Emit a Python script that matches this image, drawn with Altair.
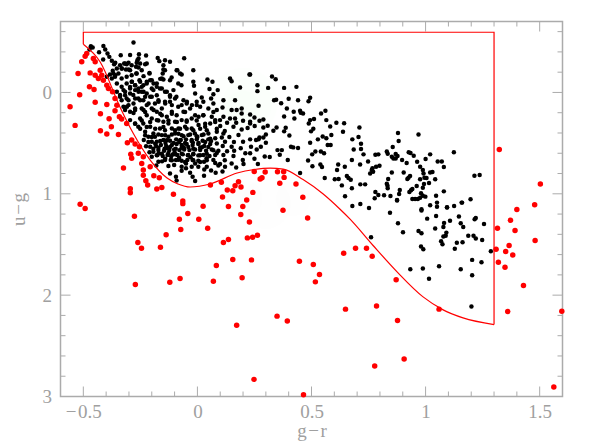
import altair as alt
import pandas as pd

red_left = [(-0.485,-0.384),(-0.492,-0.358),(-0.507,-0.302),(-0.456,-0.334),(-0.448,-0.302),(-0.523,-0.187),(-0.47,-0.193),(-0.448,-0.17),(-0.434,-0.138),(-0.419,-0.17),(-0.426,-0.22),(-0.412,-0.121),(-0.473,-0.056),(-0.453,-0.03),(-0.516,0.023),(-0.558,0.142),(-0.448,0.096),(-0.397,-0.071),(-0.39,-0.039),(-0.372,-0.006),(-0.397,0.119),(-0.361,0.06),(-0.353,0.126),(-0.361,0.181),(-0.425,0.211),(-0.387,0.26),(-0.342,0.24),(-0.332,0.263),(-0.31,0.306),(-0.536,0.325),(-0.377,0.338),(-0.425,0.378),(-0.397,0.411),(-0.346,0.415),(-0.307,0.496),(-0.288,0.47),(-0.273,0.509),(-0.254,0.536),(-0.292,0.61),(-0.288,0.65),(-0.324,0.746),(-0.259,0.601),(-0.237,0.634),(-0.244,0.7),(-0.237,0.766),(-0.207,0.733),(-0.237,0.816),(-0.226,0.872),(-0.218,0.914),(-0.191,0.822),(-0.167,0.841),(-0.178,0.953),(-0.156,0.937),(-0.294,0.95),(-0.294,0.989),(-0.105,1.005),(0.057,0.914),(0.105,0.887),(0.131,0.963),(0.155,0.97),(0.18,0.881),(0.165,0.92),(0.191,0.933),(0.11,1.031)]
red_mid = [(-0.514,1.103),(-0.492,1.146),(-0.276,1.222),(-0.261,1.48),(-0.245,1.537),(-0.272,1.895),(-0.162,1.527),(-0.137,1.403),(-0.121,1.872),(-0.076,1.836),(-0.079,1.251),(-0.073,1.353),(-0.042,1.195),(-0.064,1.097),(-0.064,1.071),(0.006,1.251),(0.025,1.123),(0.045,1.34),(0.07,1.862),(0.083,1.708),(0.114,1.48),(0.136,1.451),(0.136,1.126),(0.155,1.649),(0.19,1.205),(0.199,1.126),(0.216,1.061),(0.228,1.278),(0.219,1.435),(0.242,1.429),(0.263,1.409),(0.237,1.652),(0.196,1.829),(0.172,2.296),(0.375,1.163),(0.483,1.238),(0.447,1.665),(0.508,1.698),(0.535,1.796),(0.517,1.869),(0.349,2.207),(0.394,2.256),(0.248,2.831),(0.465,2.982),(0.249,0.779),(0.297,0.785),(0.351,0.782),(0.378,0.782),(0.38,0.838),(0.275,0.854),(0.283,0.841),(0.361,0.897),(0.432,0.904),(0.243,0.986),(0.462,1.035)]
red_right = [(0.641,1.586),(0.693,1.537),(0.741,1.537),(0.766,1.616),(0.871,1.849),(0.649,2.138),(0.785,2.108),(0.877,2.25),(1.059,2.138),(0.906,2.63),(0.777,2.699),(1.315,1.34),(1.309,1.547),(1.319,1.675),(1.351,1.57),(1.366,1.51),(1.382,1.603),(1.348,1.724),(1.392,1.363),(1.372,1.261),(1.4,1.156),(1.478,1.107),(1.48,1.461),(1.429,1.905),(1.36,2.161),(1.597,2.158),(1.562,2.906),(1.323,0.562),(1.503,0.904)]

black_top = [(-0.28,-0.492),(-0.467,-0.456),(-0.459,-0.443),(-0.473,-0.423),(-0.412,-0.459),(-0.404,-0.423),(-0.431,-0.397),(-0.394,-0.384),(-0.386,-0.351),(-0.375,-0.312),(-0.413,-0.325),(-0.336,-0.368),(-0.295,-0.37),(-0.256,-0.377),(-0.225,-0.364),(-0.174,-0.341),(-0.167,-0.309),(-0.142,-0.318),(-0.12,-0.302),(-0.058,-0.338),(-0.018,-0.22),(0.044,-0.128),(0.066,-0.105),(0.143,-0.138),(0.15,-0.111),(0.228,-0.176),(0.187,-0.049),(0.089,-0.023),(0.053,-0.033),(0.07,0.017),(-0.018,-0.105),(-0.015,-0.065),(-0.01,0.01),(0.019,0.05),(0.06,0.06)]
black_band1 = [(-0.36,-0.292),(-0.339,-0.269),(-0.317,-0.285),(-0.302,-0.292),(-0.288,-0.269),(-0.263,-0.318),(-0.251,-0.285),(-0.269,-0.253),(-0.222,-0.285),(-0.266,-0.187),(-0.244,-0.22),(-0.21,-0.187),(-0.295,-0.22),(-0.288,-0.17),(-0.313,-0.226),(-0.332,-0.236),(-0.346,-0.187),(-0.368,-0.187),(-0.383,-0.177),(-0.361,-0.154),(-0.332,-0.138),(-0.31,-0.154),(-0.149,-0.269),(-0.142,-0.22),(-0.152,-0.187),(-0.091,-0.22),(-0.076,-0.187),(-0.156,-0.138),(-0.12,-0.121),(-0.084,-0.088),(-0.07,-0.072),(-0.397,-0.154),(-0.375,-0.138),(-0.353,-0.088),(-0.332,-0.056),(-0.31,-0.088),(-0.288,-0.105),(-0.273,-0.072),(-0.254,-0.121),(-0.237,-0.072),(-0.222,-0.105),(-0.2,-0.121),(-0.178,-0.088),(-0.164,-0.039),(-0.142,-0.006),(-0.12,0.043),(-0.098,0.059),(-0.259,-0.039),(-0.244,-0.006),(-0.222,0.01),(-0.295,-0.039),(-0.317,-0.006),(-0.339,0.026),(-0.353,-0.006),(-0.332,0.076),(-0.31,0.059),(-0.281,0.026),(-0.259,0.059),(-0.237,0.076),(-0.207,0.043),(-0.193,-0.023),(-0.061,0.076),(-0.047,0.109),(-0.084,0.142),(-0.112,0.125),(-0.142,0.092),(-0.171,0.076),(-0.186,0.109)]
black_band1b = [(-0.258,-0.334),(-0.229,-0.279),(-0.266,-0.292),(-0.258,-0.246),(-0.31,-0.279),(-0.331,-0.236),(-0.321,-0.285),(-0.301,-0.226),(-0.353,-0.236),(-0.371,-0.213),(-0.36,-0.17),(-0.365,-0.279),(-0.268,-0.187),(-0.236,-0.161),(-0.21,-0.193),(-0.149,-0.226),(-0.149,-0.128),(-0.163,-0.134),(-0.113,-0.147),(-0.088,-0.22),(-0.069,-0.177),(-0.287,-0.105),(-0.295,-0.055),(-0.273,-0.072),(-0.251,-0.105),(-0.244,-0.055),(-0.222,-0.088),(-0.207,-0.121),(-0.192,-0.088),(-0.2,-0.039),(-0.178,-0.055),(-0.236,-0.006),(-0.258,-0.006),(-0.273,-0.023),(-0.295,0.01),(-0.317,0.027),(-0.324,-0.023),(-0.339,0.043),(-0.302,0.076),(-0.273,0.059),(-0.251,0.076),(-0.229,0.043),(-0.214,0.109),(-0.2,0.043),(-0.178,0.027),(-0.156,-0.039),(-0.134,-0.006),(-0.12,0.027),(-0.105,-0.023),(-0.092,0.043),(-0.12,0.092),(-0.141,0.109),(-0.17,0.092),(-0.069,0.125),(-0.046,0.092),(-0.024,0.125),(-0.003,0.092),(0.012,0.141),(-0.236,0.174),(-0.273,0.158),(-0.309,0.141),(-0.192,0.174),(-0.156,0.158)]
black_band2 = [(-0.324,0.142),(-0.302,0.125),(-0.28,0.109),(-0.317,0.174),(-0.295,0.191),(-0.273,0.174),(-0.244,0.158),(-0.222,0.125),(-0.2,0.158),(-0.178,0.191),(-0.156,0.224),(-0.134,0.24),(-0.112,0.191),(-0.091,0.224),(-0.061,0.191),(-0.032,0.158),(-0.003,0.125),(0.026,0.092),(0.048,0.158),(0.07,0.109),(0.085,0.174),(0.063,0.24),(0.026,0.224),(0.005,0.24),(-0.025,0.256),(-0.047,0.289),(-0.069,0.273),(-0.098,0.289),(-0.127,0.306),(-0.149,0.289),(-0.178,0.273),(-0.2,0.256),(-0.222,0.224),(-0.251,0.256),(-0.273,0.306),(-0.295,0.273),(-0.259,0.339),(-0.237,0.306),(-0.207,0.339),(-0.229,0.388),(-0.193,0.404),(-0.164,0.355),(-0.142,0.372),(-0.112,0.355),(-0.083,0.355),(-0.054,0.339),(-0.025,0.355),(0.005,0.322),(0.034,0.339),(0.056,0.306),(0.078,0.273),(0.099,0.273),(0.114,0.24),(0.143,0.256),(0.165,0.256),(0.194,0.207),(0.15,0.174),(0.172,0.174),(0.11,0.148),(0.114,0.076),(0.165,0.076),(0.194,0.158),(0.158,0.339),(0.194,0.365),(0.231,0.289)]
black_band2b = [(-0.28,0.203),(-0.229,0.193),(-0.163,0.21),(-0.112,0.21),(-0.054,0.193),(-0.01,0.226),(0.026,0.226),(0.07,0.193),(-0.273,0.308),(-0.244,0.276),(-0.207,0.292),(-0.171,0.276),(-0.127,0.276),(-0.09,0.292),(-0.047,0.276),(-0.003,0.276),(0.034,0.308),(0.078,0.292),(-0.251,0.358),(-0.222,0.341),(-0.185,0.358),(-0.149,0.341),(-0.098,0.374),(-0.076,0.358),(-0.047,0.358),(-0.018,0.374),(0.012,0.358),(0.041,0.374),(0.085,0.358)]
black_band3 = [(0.1,0.33),(0.13,0.3),(0.12,0.38),(0.17,0.3),(0.2,0.28),(0.22,0.35),(0.18,0.42),(0.14,0.44),(0.16,0.49),(0.13,0.58),(0.19,0.55),(0.21,0.6),(0.12,0.67),(0.15,0.7),(0.17,0.74),(0.06,0.77),(0.03,0.76),(0.11,0.78)]
black_cluster1 = [(-0.215,0.437),(-0.186,0.437),(-0.156,0.421),(-0.127,0.437),(-0.098,0.404),(-0.069,0.421),(-0.04,0.421),(-0.011,0.404),(0.019,0.421),(0.048,0.404),(0.085,0.388),(0.114,0.404),(-0.2,0.486),(-0.178,0.486),(-0.149,0.47),(-0.12,0.476),(-0.093,0.463),(-0.073,0.47),(-0.05,0.463),(-0.025,0.47),(-0.003,0.463),(0.023,0.476),(0.048,0.463),(0.078,0.453),(0.107,0.444),(0.121,0.486),(-0.207,0.536),(-0.181,0.529),(-0.16,0.519),(-0.137,0.529),(-0.112,0.519),(-0.091,0.509),(-0.069,0.519),(-0.047,0.509),(-0.021,0.519),(0.004,0.509),(0.03,0.529),(0.056,0.509),(0.085,0.503),(0.111,0.529),(0.15,0.536),(0.2,0.486),(-0.193,0.585),(-0.171,0.569),(-0.146,0.575),(-0.123,0.569),(-0.102,0.562),(-0.079,0.569),(-0.058,0.562),(-0.035,0.569),(-0.01,0.562),(0.012,0.569),(0.038,0.575),(0.063,0.562),(0.092,0.575),(0.161,0.575)]
black_cluster1b = [(-0.229,0.423),(-0.2,0.44),(-0.171,0.414),(-0.141,0.423),(-0.112,0.414),(-0.083,0.407),(-0.061,0.433),(-0.032,0.414),(-0.003,0.433),(0.027,0.414),(0.056,0.456),(-0.215,0.489),(-0.185,0.505),(-0.163,0.479),(-0.134,0.472),(-0.105,0.499),(-0.076,0.472),(-0.054,0.499),(-0.025,0.479),(0.005,0.499),(0.034,0.489),(-0.193,0.555),(-0.171,0.545),(-0.144,0.555),(-0.12,0.538),(-0.095,0.555),(-0.069,0.545),(-0.04,0.538),(-0.018,0.555),(0.012,0.545),(0.048,0.538),(0.07,0.571),(-0.178,0.62),(-0.156,0.604),(-0.127,0.597),(-0.098,0.61),(-0.069,0.604),(-0.042,0.62),(-0.018,0.604),(0.012,0.62),(0.041,0.604),(0.085,0.597),(-0.141,0.653),(-0.112,0.67),(-0.083,0.663),(-0.054,0.686),(-0.018,0.67),(0.012,0.686),(0.041,0.67)]
black_cluster2 = [(-0.2,0.634),(-0.175,0.618),(-0.152,0.628),(-0.131,0.618),(-0.108,0.611),(-0.088,0.618),(-0.064,0.611),(-0.04,0.618),(-0.018,0.611),(0.004,0.621),(0.026,0.618),(0.053,0.628),(0.078,0.618),(0.114,0.618),(0.158,0.628),(-0.171,0.683),(-0.142,0.667),(-0.117,0.667),(-0.094,0.667),(-0.069,0.674),(-0.044,0.667),(-0.021,0.667),(0.004,0.674),(0.029,0.683),(0.07,0.667),(0.099,0.707),(0.121,0.733),(0.199,0.667),(0.202,0.707),(-0.127,0.726),(-0.102,0.716),(-0.069,0.733),(-0.05,0.749),(-0.025,0.733),(0.004,0.733),(0.041,0.733),(0.078,0.697),(0.092,0.72),(0.08,0.792),(-0.12,0.799),(-0.094,0.831),(-0.069,0.772),(-0.032,0.792),(-0.021,0.831),(0.029,0.822),(-0.091,0.87),(-0.01,0.874),(-0.155,0.68),(-0.18,0.72),(-0.21,0.59),(-0.225,0.53),(-0.235,0.47),(-0.1,0.59),(-0.06,0.54),(-0.02,0.495),(0.02,0.54),(-0.13,0.55),(-0.17,0.6),(-0.08,0.645),(-0.03,0.64),(0.04,0.65),(-0.14,0.5),(-0.08,0.49),(0.0,0.44),(0.06,0.48),(-0.115,0.63),(-0.05,0.7),(-0.01,0.7)]
black_mid = [(0.231,-0.176),(0.327,-0.157),(0.343,-0.13),(0.263,-0.071),(0.263,-0.013),(0.31,-0.045),(0.38,-0.045),(0.434,-0.055),(0.336,0.076),(0.345,0.073),(0.4,0.063),(0.367,0.106),(0.441,0.076),(0.494,0.053),(0.487,0.086),(0.268,0.132),(0.392,0.158),(0.422,0.191),(0.45,0.181),(0.453,0.201),(0.463,0.207),(0.425,0.257),(0.38,0.237),(0.542,0.207),(0.561,0.181),(0.565,0.273),(0.511,0.263),(0.494,0.273),(0.488,0.306),(0.609,0.3),(0.643,0.303),(0.582,0.336),(0.71,0.345),(0.638,0.388),(0.508,0.358),(0.498,0.384),(0.587,0.42),(0.549,0.434),(0.565,0.453),(0.528,0.463),(0.494,0.496),(0.571,0.519),(0.584,0.519),(0.679,0.463),(0.706,0.44),(0.717,0.506),(0.717,0.559),(0.685,0.562),(0.728,0.611),(0.485,0.671),(0.503,0.611),(0.517,0.582),(0.541,0.582),(0.555,0.601),(0.504,0.729),(0.539,0.711),(0.546,0.736),(0.45,0.795),(0.41,0.535),(0.42,0.542),(0.441,0.549),(0.396,0.667),(0.351,0.569),(0.37,0.569),(0.361,0.615),(0.295,0.632),(0.317,0.638),(0.265,0.707),(0.25,0.654),(0.235,0.536),(0.26,0.562),(0.278,0.536),(0.3,0.496),(0.257,0.47),(0.268,0.463),(0.289,0.444),(0.272,0.444),(0.231,0.463),(0.3,0.414),(0.403,0.424),(0.38,0.384),(0.387,0.348),(0.347,0.345),(0.333,0.378),(0.308,0.329),(0.289,0.345),(0.272,0.279),(0.289,0.267),(0.25,0.247),(0.231,0.217),(0.231,0.306),(0.251,0.332),(0.231,0.601),(0.558,0.844),(0.602,0.857),(0.619,0.854),(0.633,0.917),(0.655,0.825),(0.662,0.845),(0.672,0.861),(0.677,0.946),(0.714,0.907),(0.735,0.907),(0.647,1.025),(0.679,1.12),(0.714,1.1),(0.752,1.14)]
black_right1 = [(0.879,0.401),(0.969,0.414),(0.882,0.48),(0.856,0.539),(0.83,0.582),(0.834,0.605),(0.78,0.615),(0.793,0.611),(0.926,0.589),(0.934,0.598),(0.948,0.625),(1.02,0.611),(1.124,0.589),(0.852,0.634),(0.859,0.651),(0.869,0.608),(0.877,0.628),(0.869,0.651),(0.897,0.667),(0.917,0.697),(1.0,0.657),(0.963,0.684),(1.053,0.681),(1.071,0.681),(1.08,0.736),(0.748,0.681),(0.713,0.711),(0.677,0.667),(0.617,0.711),(0.646,0.733),(0.612,0.766),(0.767,0.749),(0.783,0.733),(0.798,0.723),(0.764,0.766),(0.757,0.799),(0.77,0.782),(0.852,0.789),(0.904,0.789),(0.836,0.854),(0.932,0.825),(0.925,0.841),(0.92,0.854),(0.988,0.766),(0.991,0.799),(0.976,0.733),(1.02,0.789),(1.03,0.785),(0.976,0.857),(0.995,0.841),(1.004,0.845),(1.042,0.857),(1.015,0.894),(0.993,0.904),(0.988,0.94)]
black_right2 = [(0.83,0.9),(0.833,0.92),(0.834,0.946),(0.887,0.963),(0.884,1.002),(0.78,0.982),(0.793,1.012),(0.777,1.045),(0.818,1.015),(0.846,1.022),(0.875,1.061),(0.929,0.982),(0.936,0.966),(0.942,0.953),(0.961,0.924),(0.98,0.995),(0.988,1.019),(0.999,1.028),(0.976,1.038),(0.966,1.051),(0.954,1.051),(0.942,1.051),(1.046,1.019),(1.08,0.976),(1.02,1.114),(1.05,1.087),(1.05,1.127),(1.094,1.136),(1.125,1.12),(1.158,1.087),(1.197,1.054),(1.214,0.821),(1.237,0.815),(0.982,1.153),(0.875,1.067),(0.844,1.186),(0.879,1.29),(0.901,1.379),(0.761,1.429),(0.982,1.166),(1.094,1.133),(1.16,1.087)]
black_right3 = [(1.007,1.245),(1.046,1.218),(1.081,1.287),(1.078,1.327),(1.042,1.343),(1.107,1.265),(1.146,1.225),(1.154,1.29),(1.165,1.327),(1.22,1.238),(1.215,1.251),(1.256,1.297),(0.969,1.366),(0.982,1.389),(1.091,1.383),(1.088,1.415),(1.078,1.422),(1.068,1.468),(1.074,1.497),(1.187,1.415),(1.21,1.415),(1.22,1.442),(1.248,1.455),(1.162,1.478),(1.137,1.484),(1.128,1.543),(1.286,1.566),(0.98,1.52),(0.99,1.547),(1.204,1.652),(1.245,1.675),(1.059,1.714),(1.154,1.744),(0.933,1.744),(0.988,1.737),(1.015,1.839),(1.204,1.803),(1.201,2.112)]

curve_gr = [-0.5,-0.426,-0.339,-0.282,-0.207,-0.133,-0.085,-0.032,0.056,0.174,0.25,0.319,0.376,0.463,0.55,0.624,0.669,0.77,0.875,0.989,1.077,1.164,1.3]
curve_ug = [-0.476,-0.30,0.145,0.40,0.667,0.844,0.903,0.933,0.903,0.795,0.76,0.746,0.756,0.86,1.0,1.15,1.25,1.51,1.77,2.017,2.145,2.224,2.29]
box_gr = [-0.5,-0.5,1.3,1.3]
box_ug = [-0.476,-0.594,-0.594,2.29]

major_x = [-0.5,0,0.5,1,1.5]
minor_x = [-0.4,-0.3,-0.2,-0.1,0.1,0.2,0.3,0.4,0.6,0.7,0.8,0.9,1.1,1.2,1.3,1.4]
major_y = [0,1,2,3]
minor_y = [-0.6,-0.4,-0.2,0.2,0.4,0.6,0.8,1.2,1.4,1.6,1.8,2.2,2.4,2.6,2.8]

smudge_green = [(0.2,0.1,4900),(0.22,0.1,2500),(0.2,0.15,1200)]
smudge_grey = [(0.3,1.1,2500),(0.2,1.05,1500),(0.42,1.05,1200)]

W, H = 502, 375
GREY = "#ababab"
LABEL = "#a0a0a0"
FONT = "Liberation Serif"
xs = alt.Scale(domain=[-0.6,1.6], nice=False, zero=False)
ys = alt.Scale(domain=[3,-0.7], nice=False, zero=False)

black = black_top+black_band1+black_band1b+black_band2+black_band2b+black_band3+black_cluster1+black_cluster1b+black_cluster2+black_mid+black_right1+black_right2+black_right3
red = red_left+red_mid+red_right
df_b = pd.DataFrame(black, columns=["gr","ug"])
df_r = pd.DataFrame(red, columns=["gr","ug"])
df_c = pd.DataFrame({"gr":curve_gr,"ug":curve_ug})
df_box = pd.DataFrame({"gr":box_gr,"ug":box_ug,"o":range(len(box_gr))})

plain_x = alt.X("gr:Q", scale=xs)
plain_y = alt.Y("ug:Q", scale=ys)
x_enc = alt.X("gr:Q", scale=xs, title="g\u200a\u2212\u200ar", axis=alt.Axis(values=major_x, format=".1~f", labelExpr="replace(datum.label,'\u2212','\u2212\u200a')", tickSize=0, domain=False, grid=False, labelPadding=6, labelFont=FONT, labelFontSize=19, labelColor=LABEL, titleFont=FONT, titleFontSize=19, titleColor=LABEL, titleFontWeight="normal", titlePadding=0))
y_enc = alt.Y("ug:Q", scale=ys, title="u\u200a\u2212\u200ag", axis=alt.Axis(values=major_y, format="d", tickSize=0, domain=False, grid=False, labelPadding=9, labelFont=FONT, labelFontSize=19, labelColor=LABEL, titleFont=FONT, titleFontSize=19, titleColor=LABEL, titleFontWeight="normal", titlePadding=14))

def smudge(rows, colour):
    d = pd.DataFrame(rows, columns=["gr","ug","s"])
    return alt.Chart(d).mark_circle(color=colour, opacity=0.007).encode(x=plain_x, y=plain_y, size=alt.Size("s:Q", scale=None, legend=None))

pts_b = alt.Chart(df_b).mark_circle(color="black", size=20, opacity=1).encode(x=x_enc, y=y_enc)
pts_r = alt.Chart(df_r).mark_circle(color="#ff0000", size=30, opacity=1).encode(x=plain_x, y=plain_y)
curve = alt.Chart(df_c).mark_line(color="#ff0000", strokeWidth=1.2, interpolate="monotone").encode(x=plain_x, y=plain_y)
box = alt.Chart(df_box).mark_line(color="#ff0000", strokeWidth=1.2).encode(x=plain_x, y=plain_y, order="o:Q")

def vticks(vals, a, b):
    return alt.Chart(pd.DataFrame({"v":vals})).mark_rule(color=GREY, strokeWidth=1).encode(x=alt.X("v:Q", scale=xs), y=alt.value(a), y2=alt.value(b))
def hticks(vals, a, b):
    return alt.Chart(pd.DataFrame({"v":vals})).mark_rule(color=GREY, strokeWidth=1).encode(y=alt.Y("v:Q", scale=ys), x=alt.value(a), x2=alt.value(b))

ticks = [vticks(major_x,H,H-10),vticks(major_x,0,10),vticks(minor_x,H,H-5),vticks(minor_x,0,5),
         hticks(major_y,0,10),hticks(major_y,W,W-10),hticks(minor_y,0,5),hticks(minor_y,W,W-5)]

chart = alt.layer(smudge(smudge_green,"#00c000"), smudge(smudge_grey,"#606060"), *ticks, pts_b, pts_r, curve, box).properties(
    width=W, height=H, autosize=alt.AutoSizeParams(type="none"),
    padding={"left":52.5,"top":13.5,"right":20,"bottom":45}, background="white"
).configure_view(stroke=GREY, strokeWidth=1.5)

chart.save("out.html", embed_options={"renderer":"svg","actions":False})
